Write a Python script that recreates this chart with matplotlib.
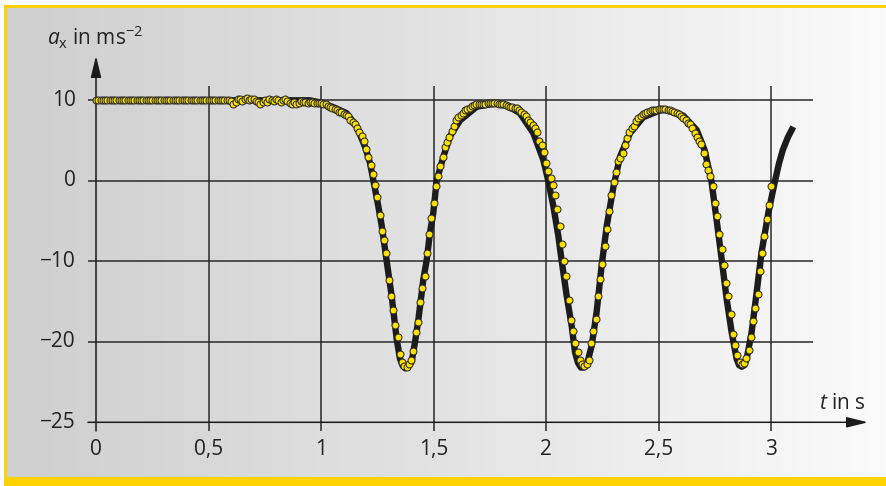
import numpy as np
import matplotlib
matplotlib.use('Agg')
import matplotlib.pyplot as plt
from matplotlib.patches import Rectangle
from matplotlib.colors import LinearSegmentedColormap

plt.rcParams['font.family'] = ['Open Sans', 'DejaVu Sans']
plt.rcParams['mathtext.fontset'] = 'custom'
plt.rcParams['mathtext.rm'] = 'Open Sans'
plt.rcParams['mathtext.it'] = 'Open Sans:italic'

# measured acceleration, sampled every 0.01 s (dots)
sampleStep = 0.01
dotValues = [
    10.0, 10.0, 10.0, 10.0, 10.0, 10.0, 10.0, 10.0, 10.0, 10.0,
    10.0, 10.0, 10.0, 10.0, 10.0, 10.0, 10.0, 10.0, 10.0, 10.0,
    10.0, 10.0, 10.0, 10.0, 10.0, 10.0, 10.0, 10.0, 10.0, 10.0,
    10.0, 10.0, 10.0, 10.0, 10.0, 10.0, 10.0, 10.0, 10.0, 10.0,
    10.0, 10.0, 10.0, 10.0, 10.0, 10.0, 10.0, 10.0, 10.0, 10.0,
    10.0, 10.0, 10.0, 10.0, 10.0, 10.0, 10.0, 10.0, 10.0, 10.0,
    9.9, 9.6, 9.8, 10.1, 10.2, 9.9, 10.2, 10.3, 10.0, 10.1,
    10.2, 9.9, 9.8, 9.6, 9.8, 10.0, 9.8, 10.1, 10.0, 9.9,
    10.1, 10.0, 9.8, 10.0, 10.1, 9.9, 9.7, 9.6, 9.8, 9.6,
    9.7, 9.9, 9.8, 9.8, 9.7, 9.8, 9.8, 9.7, 9.7, 9.7,
    9.7, 9.6, 9.5, 9.3, 9.2, 9.0, 8.9, 8.8, 8.6, 8.5,
    8.3, 8.2, 8.0, 7.6, 7.3, 7.0, 6.6, 6.1, 5.6, 5.0,
    3.9, 2.9, 2.0, 0.9, -0.5, -2.0, -4.3, -6.2, -7.3, -9.0,
    -12.3, -14.3, -16.0, -17.9, -19.4, -21.5, -22.5, -23.0, -23.1, -22.8,
    -22.2, -21.2, -18.8, -17.5, -15.0, -13.3, -11.8, -9.0, -6.6, -4.6,
    -2.8, -0.6, 0.6, 1.8, 3.0, 4.2, 4.8, 5.5, 6.2, 6.8,
    7.5, 7.9, 8.2, 8.4, 8.8, 8.9, 9.1, 9.3, 9.4, 9.5,
    9.5, 9.6, 9.6, 9.6, 9.7, 9.7, 9.7, 9.7, 9.7, 9.6,
    9.6, 9.5, 9.4, 9.3, 9.2, 9.2, 9.1, 9.0, 8.8, 8.6,
    8.3, 8.0, 7.6, 7.3, 6.9, 6.6, 6.1, 5.0, 4.4, 3.6,
    2.2, 1.2, 0.3, -0.5, -1.8, -3.5, -5.6, -7.8, -10.0, -11.8,
    -14.8, -17.3, -18.6, -20.2, -21.3, -22.3, -22.8, -23.0, -22.8, -22.2,
    -20.2, -18.7, -17.2, -14.3, -12.2, -10.3, -8.1, -6.0, -3.7, -1.8,
    -0.2, 1.1, 2.5, 2.8, 3.4, 4.4, 5.3, 6.1, 6.5, 6.8,
    7.4, 7.8, 8.1, 8.3, 8.4, 8.5, 8.7, 8.8, 8.8, 8.85,
    8.9, 8.9, 8.9, 8.9, 8.8, 8.75, 8.65, 8.55, 8.45, 8.3,
    8.1, 7.8, 7.5, 7.2, 7.0, 6.5, 6.0, 5.4, 5.0, 4.6,
    3.4, 2.1, 1.4, 0.6, -0.6, -2.7, -4.4, -6.6, -8.5, -10.4,
    -12.7, -14.3, -16.6, -19.0, -20.4, -21.6, -22.5, -22.8, -22.6, -22.0,
    -21.0, -19.4, -17.4, -15.8, -14.0, -11.2, -9.0, -6.8, -4.8, -3.0,
    -0.6,
]

# model curve (thick black line)
lineT = [0.0, 0.95, 1.0, 1.05, 1.114, 1.159, 1.196, 1.218, 1.233, 1.255,
         1.27, 1.292, 1.314, 1.336, 1.351, 1.363, 1.375, 1.388, 1.403, 1.418,
         1.433, 1.455, 1.47, 1.484, 1.499, 1.514, 1.544, 1.573, 1.618, 1.692,
         1.77, 1.83, 1.884, 1.944, 1.988, 2.01, 2.033, 2.055, 2.07, 2.092,
         2.114, 2.129, 2.142, 2.155, 2.168, 2.181, 2.203, 2.225, 2.247, 2.27,
         2.3, 2.329, 2.373, 2.432, 2.521, 2.61, 2.67, 2.705, 2.735, 2.758,
         2.781, 2.803, 2.825, 2.847, 2.858, 2.87, 2.882, 2.892, 2.914, 2.936,
         2.958, 2.988, 3.018, 3.035, 3.052, 3.075, 3.099]
lineV = [10.0, 10.0, 9.7, 9.2, 8.4, 6.7, 4.2, 2.2, 0.0, -3.2,
         -5.6, -10.0, -14.3, -19.6, -22.1, -23.0, -23.3, -23.0, -22.5, -20.0,
         -17.2, -12.2, -9.8, -6.5, -4.0, 0.0, 3.0, 5.5, 7.5, 9.2,
         9.6, 9.3, 8.4, 5.9, 2.6, 0.0, -3.2, -6.9, -10.0, -14.3,
         -18.0, -21.3, -22.6, -23.2, -23.2, -22.9, -20.5, -16.3, -10.6, -5.6,
         -0.7, 3.0, 5.9, 7.9, 8.9, 8.1, 6.3, 3.8, 0.0, -4.8,
         -9.8, -14.7, -18.8, -22.1, -22.9, -23.1, -22.9, -22.1, -18.8, -13.9,
         -8.9, -4.0, 0.0, 2.1, 3.8, 5.4, 6.7]

xTicks = [0, 0.5, 1, 1.5, 2, 2.5, 3]
xTickLabels = ['0', '0,5', '1', '1,5', '2', '2,5', '3']
yGrid = [10, 0, -10, -20]
yTickPos = [10, 0, -10, -20, -30]   # axis drawn with a break: bottom line is labelled -25
yTickLabels = ['10', '0', '\u221210', '\u221220', '\u221225']

W, H = 886, 486
fig = plt.figure(figsize=(W / 100, H / 100), dpi=100)
fig.patch.set_facecolor('white')

# background gradient and yellow frame, in pixel coordinates
yellow = '#ffd200'
bgAx = fig.add_axes([0, 0, 1, 1])
grad = np.linspace(0, 1, 256).reshape(1, -1)
cmap = LinearSegmentedColormap.from_list('bg', ['#cfcfcf', '#e3e3e3', '#fbfbfb'])
bgAx.imshow(grad, extent=[7, W + 4, 477, 8], aspect='auto', cmap=cmap, interpolation='bilinear')
bgAx.add_patch(Rectangle((4, 5), 3.5, H, color=yellow, lw=0))
bgAx.add_patch(Rectangle((4, 5), W + 4, 3, color=yellow, lw=0))
bgAx.add_patch(Rectangle((4, 477), W + 4, 12, color=yellow, lw=0))
bgAx.set_xlim(0, W)
bgAx.set_ylim(H, 0)
bgAx.axis('off')

ax = fig.add_axes([0, 0, 1, 1])
ax.patch.set_alpha(0)

# pixel layout: t=0 at x=96px, 225 px per second; v=0 at y=180.8px, 8.05 px per unit
x0, sx = 96.0, 225.0
y0, sy = 180.8, 8.05
ax.set_xlim(-x0 / sx, (W - x0) / sx)
ax.set_ylim((y0 - H) / sy, y0 / sy)
ax.axis('off')

def px(xp, yp):
    return (xp - x0) / sx, (y0 - yp) / sy

gridColor = '#2a2a2a'
xLeft = px(88, 0)[0]
xRight = px(813, 0)[0]
yTop = px(0, 86)[1]
yBottom = px(0, 431)[1]

for g in yGrid:
    ax.plot([xLeft, xRight], [g, g], color=gridColor, lw=1.1, zorder=1, solid_capstyle='butt')
for xt in xTicks[1:]:
    ax.plot([xt, xt], [yBottom, yTop], color=gridColor, lw=1.1, zorder=1, solid_capstyle='butt')

# axes with arrows
axisBottom = yTickPos[-1]
xTip = px(868, 0)[0]
yTip = px(0, 56)[1]
arrowStyle = dict(arrowstyle='-|>,head_length=1.3,head_width=0.32', lw=1.1, color='#1a1a1a',
                  shrinkA=0, shrinkB=0)
ax.annotate('', xy=(xTip, axisBottom), xytext=(xLeft, axisBottom), arrowprops=arrowStyle, zorder=2)
ax.annotate('', xy=(0, yTip), xytext=(0, yBottom), arrowprops=arrowStyle, zorder=2)

# tick labels
for xt, lab in zip(xTicks, xTickLabels):
    ax.text(xt, px(0, 449)[1], lab, ha='center', va='center', fontsize=15, color='#222222')
for yt, lab in zip(yTickPos, yTickLabels):
    ax.text(px(76, 0)[0], yt, lab, ha='right', va='center', fontsize=15, color='#222222')

ax.text(px(47, 0)[0], px(0, 45)[1], r'$a_\mathrm{x}$ in ms$^{-2}$', ha='left', va='baseline',
        fontsize=15, color='#222222')
ax.text(px(819, 0)[0], px(0, 409)[1], r'$t$ in s', ha='left', va='baseline',
        fontsize=15, color='#222222')

# data
ax.plot(lineT, lineV, color='#1c1c1c', lw=4.6, zorder=3, solid_capstyle='butt', solid_joinstyle='round')
dotT = np.arange(len(dotValues)) * sampleStep
ax.plot(dotT, dotValues, ls='none', marker='o', ms=5.0, mfc='#ffe100', mec='#2a2a2a', mew=0.75, zorder=4)

fig.savefig('out.png', dpi=100)
